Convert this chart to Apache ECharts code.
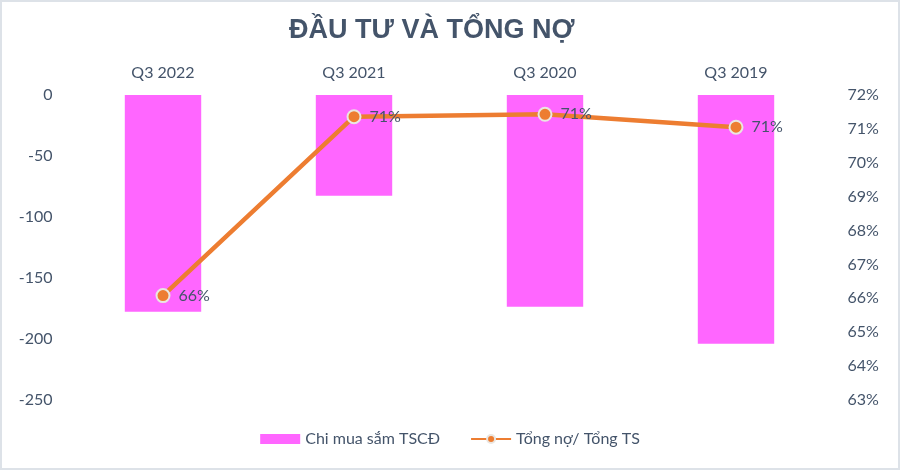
<!DOCTYPE html>
<html><head><meta charset="utf-8">
<script src="https://cdn.jsdelivr.net/npm/echarts@6/dist/echarts.min.js"></script>
<style>html,body{margin:0;padding:0;background:#fff}#c{width:900px;height:470px}#b{position:absolute;left:0;top:0;width:900px;height:470px;box-sizing:border-box;border:2px solid #dde2e8;pointer-events:none}</style>
</head><body><div id="c"></div><div id="b"></div>
<script>
const categories = ['Q3 2022', 'Q3 2021', 'Q3 2020', 'Q3 2019'];
const capex = [-177.6, -82.5, -173.5, -203.8];
const debtRatio = [66.08, 71.36, 71.43, 71.05];
const leftTicks = [0, -50, -100, -150, -200, -250];
const rightTicks = [72, 71, 70, 69, 68, 67, 66, 65, 64, 63];

const txt = '#44546a';
const font = 'Lato';
const chart = echarts.init(document.getElementById('c'));
chart.setOption({
  animation: false,
  title: { text: 'ĐẦU TƯ VÀ TỔNG NỢ', left: 284, top: 12,
    textStyle: { fontFamily: 'Liberation Sans', fontSize: 27, fontWeight: 'bold', color: txt } },
  legend: { bottom: 18, left: 'center', itemGap: 30, itemWidth: 40, itemHeight: 10,
    textStyle: { fontFamily: font, fontSize: 16, color: txt },
    data: [{ name: 'Chi mua sắm TSCĐ', icon: 'rect' }, { name: 'Tổng nợ/ Tổng TS' }] },
  grid: { left: 67.5, right: 68.5, top: 95, bottom: 70 },
  xAxis: { type: 'category', data: categories, position: 'top',
    axisLine: { show: false }, axisTick: { show: false },
    axisLabel: { fontFamily: font, fontSize: 16, color: txt, margin: 14 } },
  yAxis: [
    { type: 'value', min: -250, max: 0, interval: 50, splitLine: { show: false },
      axisLine: { show: false }, axisTick: { show: false },
      axisLabel: { fontFamily: font, fontSize: 16, color: txt, margin: 15 } },
    { type: 'value', min: 63, max: 72, interval: 1, position: 'right', splitLine: { show: false },
      axisLine: { show: false }, axisTick: { show: false },
      axisLabel: { fontFamily: font, fontSize: 16, color: txt, margin: 16, formatter: '{value}%' } }
  ],
  series: [
    { name: 'Chi mua sắm TSCĐ', type: 'bar', data: capex, barWidth: '40%',
      itemStyle: { color: '#ff66ff' } },
    { name: 'Tổng nợ/ Tổng TS', type: 'line', yAxisIndex: 1, data: debtRatio,
      symbol: 'circle', symbolSize: 13,
      lineStyle: { color: '#ed7d31', width: 4.5 },
      itemStyle: { color: '#ed7d31', borderColor: '#eae6e1', borderWidth: 2 },
      label: { show: true, position: 'right', distance: 8, fontFamily: font, fontSize: 16, color: txt,
        formatter: p => Math.round(p.value) + '%' } }
  ]
});
</script></body></html>
